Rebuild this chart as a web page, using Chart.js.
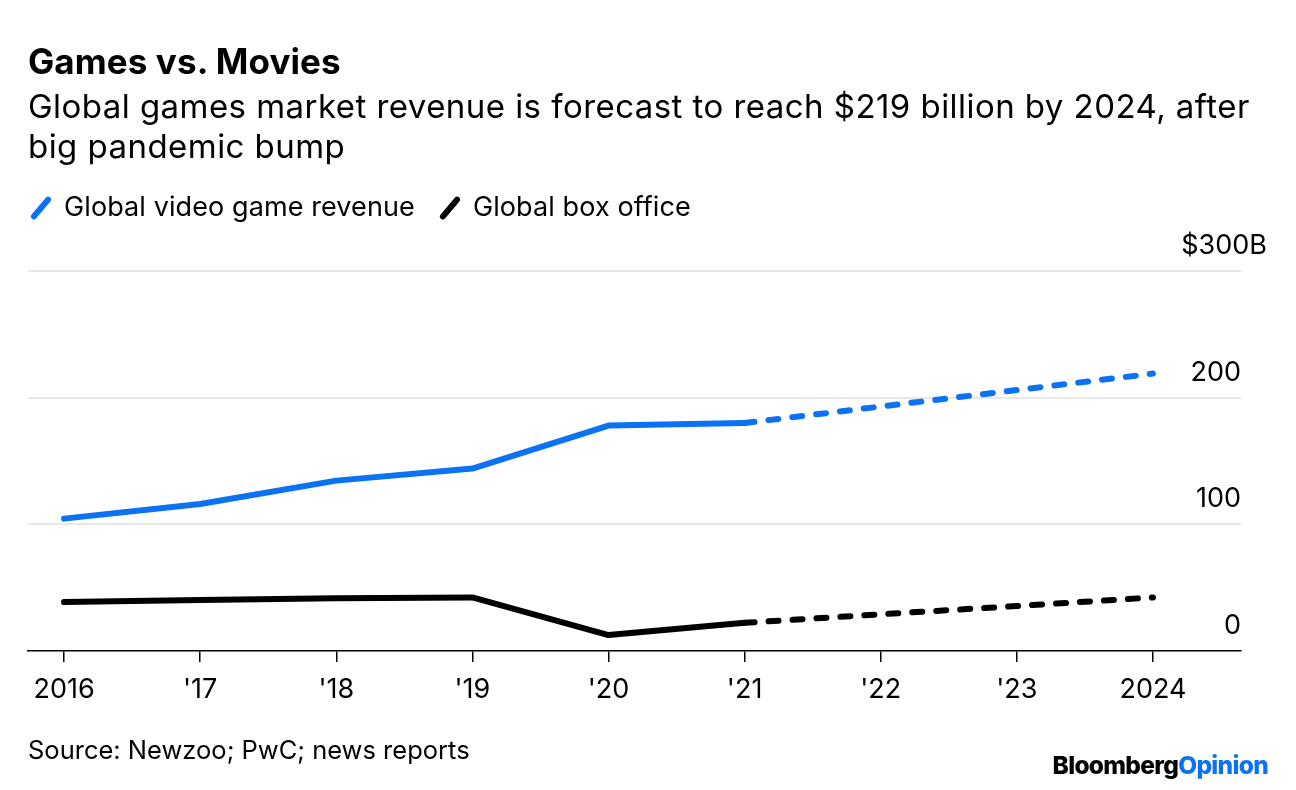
<!DOCTYPE html>
<html>
<head>
<meta charset="utf-8">
<script src="https://cdn.jsdelivr.net/npm/chart.js@4.4.0/dist/chart.umd.min.js"></script>
<style>
  html, body { margin: 0; padding: 0; background: #fff; }
  body { width: 1296px; height: 790px; position: relative; overflow: hidden; font-family: Inter, "Liberation Sans", sans-serif; color: #000; }
  #chart { position: absolute; left: 0; top: 0; }
  .txt { position: absolute; white-space: nowrap; }
  #title { left: 28px; top: 40px; font-size: 35px; line-height: 42px; font-weight: 700; letter-spacing: 0.1px; }
  #subtitle { left: 28px; top: 86px; font-size: 33px; line-height: 40px; letter-spacing: 0.45px; }
  #legend { left: 28px; top: 190px; font-size: 27px; line-height: 34px; letter-spacing: 0.1px; }
  .key { display: inline-block; width: 6px; height: 28px; border-radius: 3px; transform: rotate(40deg); vertical-align: -6px; margin: 0 20px 0 10px; }
  .item { margin-right: 22px; }
  #source { left: 28px; top: 734px; font-size: 25.5px; }
  #logo { right: 28px; top: 750px; font-size: 24.5px; font-weight: 800; letter-spacing: -0.7px; }
  #logo span { color: #0b72f3; }
</style>
</head>
<body>
<canvas id="chart" width="1296" height="790"></canvas>
<div class="txt" id="title">Games vs. Movies</div>
<div class="txt" id="subtitle">Global games market revenue is forecast to reach $219 billion by 2024, after<br>big pandemic bump</div>
<div class="txt" id="legend"><span class="item"><span class="key" style="background:#0b72f3"></span>Global video game revenue</span><span class="item"><span class="key" style="background:#000"></span>Global box office</span></div>
<div class="txt" id="source">Source: Newzoo; PwC; news reports</div>
<div class="txt" id="logo">Bloomberg<span>Opinion</span></div>
<script>
// data ($ billions)
var years = [2016, 2017, 2018, 2019, 2020, 2021, 2022, 2023, 2024];
var xTickLabels = ['2016', "'17", "'18", "'19", "'20", "'21", "'22", "'23", '2024'];
var gamesRevenue = [104.5, 116, 134.5, 144, 178, 180, 193, 206, 219];
var boxOffice = [38.6, 40.2, 41.7, 42.3, 12.6, 22.3, 29, 35.5, 42.3];
var yTicks = [0, 100, 200, 300];
var yTickLabels = ['0', '100', '200', '$300B'];
var forecastStart = 5; // segments after '21 are dashed

var blue = '#0b72f3';
var fontFamily = 'Inter, "Liberation Sans", sans-serif';

function points(values) {
        return years.map(function (y, i) { return { x: y, y: values[i] }; });
}

function dashAfterForecast(ctx) {
        return ctx.p0DataIndex >= forecastStart ? [10, 14] : undefined;
}

// y labels sit above the gridlines, right aligned at the plot's edge
var yLabelPlugin = {
        id: 'yLabels',
        afterDraw: function (chart) {
                var c = chart.ctx;
                var ys = chart.scales.y;
                var right = chart.chartArea.right;
                c.save();
                c.font = '27px ' + fontFamily;
                c.fillStyle = '#000';
                c.textAlign = 'right';
                c.textBaseline = 'alphabetic';
                yTicks.forEach(function (v, i) {
                        var x = i === yTicks.length - 1 ? right + 26 : right;
                        c.fillText(yTickLabels[i], x, ys.getPixelForValue(v) - 17);
                });
                c.restore();
        }
};

var config = {
        type: 'line',
        data: {
                datasets: [
                        {
                                label: 'Global video game revenue',
                                data: points(gamesRevenue),
                                borderColor: blue,
                                borderWidth: 6,
                                borderCapStyle: 'round',
                                borderJoinStyle: 'round',
                                pointRadius: 0,
                                segment: { borderDash: dashAfterForecast }
                        },
                        {
                                label: 'Global box office',
                                data: points(boxOffice),
                                borderColor: '#000',
                                borderWidth: 6,
                                borderCapStyle: 'round',
                                borderJoinStyle: 'round',
                                pointRadius: 0,
                                segment: { borderDash: dashAfterForecast }
                        }
                ]
        },
        options: {
                responsive: false,
                animation: false,
                devicePixelRatio: 1,
                clip: false,
                layout: { padding: { top: 271, left: 28, right: 55, bottom: 0 } },
                plugins: {
                        legend: { display: false },
                        title: { display: false },
                        tooltip: { enabled: false }
                },
                scales: {
                        x: {
                                type: 'linear',
                                min: 2015.735,
                                max: 2024.647,
                                afterBuildTicks: function (s) {
                                        s.ticks = years.map(function (v) { return { value: v }; });
                                },
                                afterFit: function (s) { s.height = 139; },
                                ticks: {
                                        callback: function (value, index) { return xTickLabels[index]; },
                                        font: { family: fontFamily, size: 27 },
                                        color: '#000',
                                        padding: 12,
                                        maxRotation: 0,
                                        autoSkip: false
                                },
                                grid: {
                                        drawOnChartArea: false,
                                        drawTicks: true,
                                        tickLength: 11,
                                        color: '#000',
                                        lineWidth: 1.5
                                },
                                border: { color: '#000', width: 1.5 }
                        },
                        y: {
                                min: 0,
                                max: 300,
                                afterBuildTicks: function (s) {
                                        s.ticks = yTicks.map(function (v) { return { value: v }; });
                                },
                                afterFit: function (s) { s.width = 0; },
                                ticks: { display: false },
                                grid: {
                                        drawTicks: false,
                                        lineWidth: 2,
                                        color: function (ctx) {
                                                return ctx.tick && ctx.tick.value === 0 ? 'rgba(0,0,0,0)' : '#e8e8e8';
                                        }
                                },
                                border: { display: false }
                        }
                }
        },
        plugins: [yLabelPlugin]
};

var ctx = document.getElementById('chart').getContext('2d');
var gamesChart = new Chart(ctx, config);
</script>
</body>
</html>
